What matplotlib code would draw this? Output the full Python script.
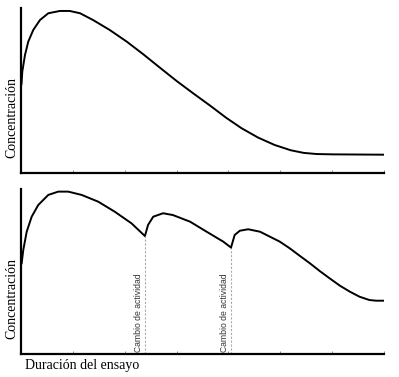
import matplotlib.pyplot as plt

# --- data (x: 0..7 tick units, y: 0..100 % of axis height) ---
top_x = [0.01, 0.025, 0.077, 0.14, 0.237, 0.366, 0.526, 0.75, 0.94, 1.14, 1.39, 1.71,
         2.04, 2.36, 2.68, 3.00, 3.32, 3.64, 3.96, 4.25, 4.57, 4.89, 5.20, 5.45,
         5.70, 6.01, 7.0]
top_y = [54, 61.4, 71.5, 79.6, 86.7, 92.7, 96.8, 98.2, 98.2, 96.8, 92.7, 86.7,
         79.6, 71.9, 63.8, 55.8, 48.3, 41.0, 33.4, 27.2, 21.5, 17.0, 13.8, 12.2,
         11.5, 11.3, 11.1]

bot_x = [0.013, 0.044, 0.11, 0.206, 0.333, 0.526, 0.719, 0.911, 1.17, 1.49, 1.81, 2.13, 2.39,
         2.45, 2.55, 2.74, 2.93, 3.26, 3.58, 3.90, 4.05,
         4.12, 4.22, 4.38, 4.61, 4.80, 4.99, 5.18, 5.38, 5.57, 5.76, 5.95, 6.15,
         6.34, 6.53, 6.72, 6.85, 7.02]
bot_y = [55.0, 63.0, 74.1, 83.2, 90.3, 96.4, 98.4, 98.4, 96.4, 92.3, 86.2, 79.2, 71.5,
         78.2, 83.2, 85.3, 84.2, 80.2, 74.1, 68.1, 64.5,
         72.1, 74.7, 75.6, 74.1, 71.1, 68.1, 64.1, 59.4, 55.0, 50.3, 45.9, 41.4,
         37.8, 34.7, 32.7, 32.3, 32.3]

change_x = [2.39, 4.05]
change_y = [71.5, 64.5]
change_label = "Cambio de actividad"
ylabel = "Concentración"
xlabel = "Duración del ensayo"
ticks = [1, 2, 3, 4, 5, 6, 7]

fig = plt.figure(figsize=(3.99, 3.77), dpi=100)
ax_top = fig.add_axes([0.0526, 0.5411, 0.9098, 0.4377])
ax_bot = fig.add_axes([0.0526, 0.0610, 0.9098, 0.4377])

for ax in (ax_top, ax_bot):
    ax.set_xlim(0, 7)
    ax.set_ylim(0, 100)
    for s in ("top", "right"):
        ax.spines[s].set_visible(False)
    for s in ("left", "bottom"):
        ax.spines[s].set_linewidth(1.6)
        ax.spines[s].set_color("black")
    ax.set_xticks(ticks)
    ax.set_xticklabels([])
    ax.set_yticks([])
    ax.tick_params(axis="x", direction="in", length=2.5, width=0.6, color="#777777")
    ax.text(-0.025, 0.335, ylabel, transform=ax.transAxes, rotation=90,
            ha="center", va="center", fontsize=10, family="Liberation Serif")

ax_top.plot(top_x, top_y, color="black", lw=1.4)
ax_bot.plot(bot_x, bot_y, color="black", lw=1.4, solid_joinstyle="miter")

for x, y in zip(change_x, change_y):
    ax_bot.plot([x, x], [0, y], color="#aaaaaa", lw=0.8, ls=(0, (2, 1.5)))
    ax_bot.text(x - 0.04, 1.5, change_label, rotation=90, ha="right", va="bottom",
                fontsize=6.2, color="#333333", family="Liberation Sans")

ax_bot.text(0.168, -0.067, xlabel, transform=ax_bot.transAxes,
            ha="center", va="center", fontsize=10, family="Liberation Serif")

fig.savefig("out.png", dpi=100)
